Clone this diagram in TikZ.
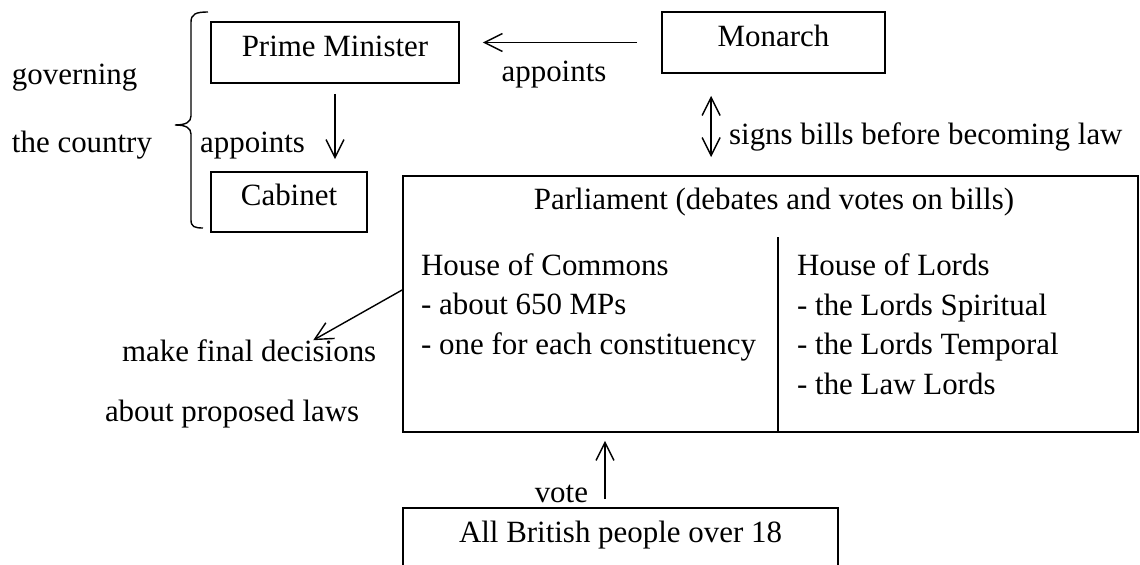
\documentclass[tikz,border=0pt]{standalone}
\usepackage{fontspec}
\setmainfont{Liberation Serif}
\usetikzlibrary{arrows.meta, positioning}
\tikzstyle{arrow} = [line width=0.8pt,->,>={Straight Barb[length=3.6mm,width=3.6mm]}]
\tikzstyle{twoway} = [arrow,<->]
\tikzstyle{box} = [rectangle, draw=black, line width=1pt, text height=0.45cm, text depth=0.29cm, inner sep=0pt, text centered]
\tikzstyle{plain} = [inner sep=0pt, outer sep=0pt]

\begin{document}
\begin{tikzpicture}[node distance=1.5cm, font=\fontsize{17.6}{22.5}\selectfont]
\useasboundingbox (0,0) rectangle (22.8,-11.3);
% Placement of boxes
\node (pm) [box, minimum width=4.96cm, minimum height=1.22cm] at (6.70,-1.05) {Prime Minister};
\node (monarch) [box, right of=pm, xshift=7.27cm, yshift=0.2cm, minimum width=4.46cm, minimum height=1.22cm] {Monarch};
\node (cabinet) [box, below of=pm, xshift=-0.92cm, yshift=-1.49cm, minimum width=3.12cm, minimum height=1.2cm] {Cabinet};
\node (parl) [box, below of=monarch, xshift=-0.06cm, yshift=-3.73cm, minimum width=14.70cm, minimum height=5.12cm] {};
\node (people) [box, below of=parl, xshift=-3cm, yshift=-3.2cm, minimum width=8.70cm, minimum height=1.24cm] {All British people over 18};

% Text inside parliament (base = last line)
\node (parltitle) [plain, anchor=base] at ([xshift=0.07cm, yshift=-0.68cm]parl.north) {Parliament (debates and votes on bills)};
\node (commons) [plain, anchor=base west, align=left] at ([xshift=0.38cm, yshift=-3.58cm]parl.north west) {House of Commons\\- about 650 MPs\\- one for each constituency};
\node (lords) [plain, anchor=base west, align=left] at ([xshift=7.90cm, yshift=-4.38cm]parl.north west) {House of Lords\\- the Lords Spiritual\\- the Lords Temporal\\- the Law Lords};
\draw [line width=1pt] ([xshift=7.52cm, yshift=-1.24cm]parl.north west) -- ([xshift=7.52cm]parl.south west);

% Side notes
\node (govern) [plain, anchor=base west] at (0.24,-1.70) {governing};
\node (country) [plain, anchor=base west] at (0.24,-3.06) {the country};
\node (decide) [plain, anchor=base west] at (2.44,-7.24) {make final decisions};
\node (proposed) [plain, anchor=base west] at (2.10,-8.44) {about proposed laws};

% Brace round the government
\draw [line width=0.8pt] (4.16,-0.24) .. controls (3.92,-0.24) and (3.82,-0.28) .. (3.82,-0.44) -- (3.82,-2.32) .. controls (3.82,-2.44) and (3.72,-2.50) .. (3.50,-2.50) .. controls (3.72,-2.50) and (3.82,-2.56) .. (3.82,-2.68) -- (3.82,-4.40) .. controls (3.82,-4.54) and (3.90,-4.56) .. (4.06,-4.56);

% Placement of edges
\draw [arrow, shorten <=0.48cm, shorten >=0.46cm] (monarch.west) -- node[plain, anchor=base, xshift=-0.13cm, yshift=-0.79cm] {appoints} (monarch.west -| pm.east);
\draw [arrow, shorten <=0.2cm, shorten >=0.24cm] (pm.south) -- node[plain, pos=0.79, anchor=base east, xshift=-0.6cm] {appoints} (pm.south |- cabinet.north);
\draw [twoway, shorten <=0.44cm, shorten >=0.36cm] ([xshift=1cm]monarch.south west) -- node[plain, pos=0.7, anchor=base west, xshift=0.36cm] {signs bills before becoming law} ([xshift=1cm]monarch.south west |- parl.north);
\draw [arrow] ([yshift=0.28cm]parl.west) -- ([xshift=-1.26cm]decide.north east);
\draw [arrow, shorten <=0.16cm, shorten >=0.16cm] ([xshift=-0.31cm]people.north) -- node[plain, pos=0, anchor=base east, xshift=-0.34cm, yshift=0.1cm] {vote} ([xshift=-0.31cm]people.north |- parl.south);
\end{tikzpicture}
\end{document}
